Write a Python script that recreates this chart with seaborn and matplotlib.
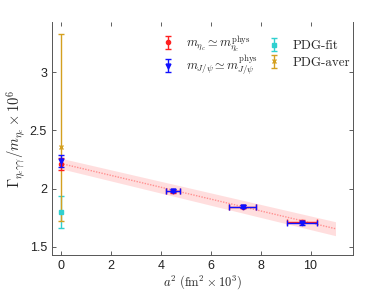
import numpy as np
import pandas as pd
import matplotlib
matplotlib.use("Agg")
import matplotlib.pyplot as plt
from matplotlib.legend import Legend
import seaborn as sns

# lattice points: a^2 (fm^2 x 10^3) and Gamma/m x 10^6
a2 = [4.48, 7.28, 9.66]
a2_err = [0.28, 0.54, 0.60]
g_etac = [1.975, 1.845, 1.715]
g_etac_err = [0.012, 0.012, 0.012]
g_jpsi = [1.982, 1.845, 1.700]
g_jpsi_err = [0.010, 0.010, 0.010]

# continuum values at a^2 = 0
cont_etac = 2.21
cont_etac_err = 0.05
cont_jpsi = 2.235
cont_jpsi_err = 0.05

# PDG values
pdg_fit = 1.80
pdg_fit_err = 0.135
pdg_aver = 2.355
pdg_aver_lo = 0.635
pdg_aver_hi = 0.975

# linear extrapolation band
band_x = [0.0, 11.0]
band_mid = [2.215, 1.655]
band_half = [0.045, 0.06]

sns.set_style("ticks")
plt.rcParams["mathtext.fontset"] = "cm"
plt.rcParams["font.family"] = ["Liberation Sans", "DejaVu Sans"]

fig, ax = plt.subplots(figsize=(3.9, 2.93), dpi=100)
fig.subplots_adjust(left=0.133, right=0.905, top=0.925, bottom=0.13)

bx = np.array(band_x)
bm = np.array(band_mid)
bh = np.array(band_half)
ax.fill_between(bx, bm - bh, bm + bh, color="#ffc4c4", alpha=0.55, lw=0, zorder=1)
df_band = pd.DataFrame({"x": band_x, "y": band_mid})
sns.lineplot(data=df_band, x="x", y="y", ax=ax, color="#ff9090", ls=(0, (1, 1)), lw=1.0, zorder=2)

red = "#ff2020"
blue = "#1010ff"
cyan = "#30d0d0"
gold = "#d4a020"

# lattice points with x errors
ax.errorbar(a2, g_etac, xerr=a2_err, yerr=g_etac_err, fmt="o", ms=3, color=red,
            elinewidth=1, capsize=2, zorder=3)
ax.errorbar(a2, g_jpsi, xerr=a2_err, yerr=g_jpsi_err, fmt="v", ms=3.5, color=blue,
            elinewidth=1, capsize=2, zorder=4)

# continuum / PDG at a^2 = 0
h1 = ax.errorbar([0], [cont_etac], yerr=[cont_etac_err], fmt="o", ms=3, color=red,
                 elinewidth=1, capsize=2, zorder=3)
h2 = ax.errorbar([0], [cont_jpsi], yerr=[cont_jpsi_err], fmt="v", ms=3.5, color=blue,
                 elinewidth=1, capsize=2, zorder=4)
h3 = ax.errorbar([0], [pdg_fit], yerr=[pdg_fit_err], fmt="s", ms=2.5, color=cyan,
                 elinewidth=1, capsize=2, zorder=2)
h4 = ax.errorbar([0], [pdg_aver], yerr=[[pdg_aver_lo], [pdg_aver_hi]], fmt="x", ms=2.5,
                 color=gold, elinewidth=1, capsize=2, zorder=2)

ax.set_xlim(-0.36, 11.7)
ax.set_ylim(1.43, 3.43)
ax.set_xticks([0, 2, 4, 6, 8, 10])
ax.set_yticks([1.5, 2, 2.5, 3])
ax.set_yticklabels(["1.5", "2", "2.5", "3"])
ax.tick_params(direction="in", top=True, right=True, labelsize=9, length=3,
               color="#444444", labelcolor="#222222", width=0.6)
for s in ["left", "bottom", "right"]:
    ax.spines[s].set_color("#555555")
    ax.spines[s].set_linewidth(0.7)
ax.spines["top"].set_visible(False)

ax.set_xlabel(r"$a^2\ (\mathrm{fm}^2\times 10^3)$", fontsize=9, labelpad=1)
ax.set_ylabel(r"$\Gamma_{\eta_c\gamma\gamma}/m_{\eta_c}\times 10^6$", fontsize=10.5, labelpad=2)

# legend: one entry per box so the rows line up like the MATLAB legend
entries = [
    (h1, r"$m_{\eta_c}\simeq m_{\eta_c}^{\mathrm{phys}}$", 0.418, 0.850, 9.0, 1.05),
    (h2, r"$m_{J/\psi}\simeq m_{J/\psi}^{\mathrm{phys}}$", 0.418, 0.778, 9.0, 1.05),
    (h3, "PDG-fit", 0.690, 0.843, 9.4, 1.0),
    (h4, "PDG-aver", 0.690, 0.785, 9.4, 1.0),
]
for h, lab, lx, ly, fs, pad in entries:
    lg = Legend(ax, [h], [lab], frameon=False, prop={"family": "cmr10", "size": fs},
                loc="center left", bbox_to_anchor=(lx, ly), bbox_transform=fig.transFigure,
                borderpad=0, borderaxespad=0, handlelength=0.8, handletextpad=pad)
    ax.add_artist(lg)

fig.savefig("out.png", dpi=100)
